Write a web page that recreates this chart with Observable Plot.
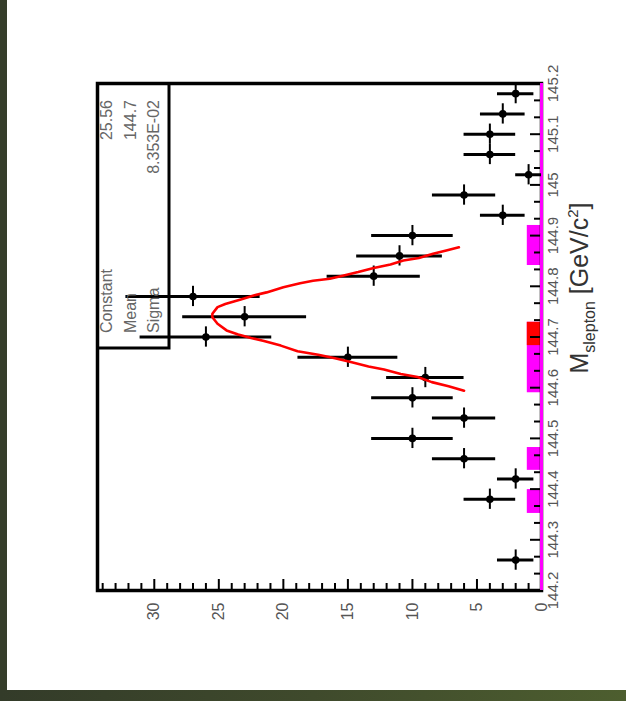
<!DOCTYPE html>
<html><head><meta charset="utf-8">
<script src="https://cdn.jsdelivr.net/npm/d3@7"></script>
<script src="https://cdn.jsdelivr.net/npm/@observablehq/plot@0.6"></script>
<style>
html,body{margin:0;padding:0;background:#fff;}
#page{position:relative;width:626px;height:701px;background:#fff;overflow:hidden;}
#lstripe{position:absolute;left:0;top:0;width:7px;height:701px;background:#363e2b;}
#bstripe{position:absolute;left:0;top:690px;width:626px;height:11px;background:linear-gradient(to right,#333b29,#3f4a2c 50%,#4d5e2f);}
#chart{position:absolute;left:0;top:0;}
</style></head><body>
<div id="page"><div id="chart"></div><div id="lstripe"></div><div id="bstripe"></div></div>
<script>
// ---- data ----
const binMass  = [144.26,144.38,144.42,144.46,144.50,144.54,144.58,144.62,144.66,144.70,144.74,144.78,144.82,144.86,144.90,144.94,144.98,145.02,145.06,145.10,145.14,145.18];
const binCount = [2,4,2,6,10,6,10,9,15,26,23,27,13,11,10,3,6,1,4,4,3,2];
const binErr   = [1.41,2,1.41,2.45,3.16,2.45,3.16,3,3.87,5.1,4.8,5.2,3.61,3.32,3.16,1.73,2.45,1,2,2,1.73,1.41];
const binHalfWidth = 0.02;

const bgLo  = [144.352,144.437,144.590,144.841];
const bgHi  = [144.399,144.482,144.729,144.920];
const bgVal = [1.1,1.1,1.1,1.1];
const sigLo  = [144.683];
const sigHi  = [144.729];
const sigVal = [1.1];

const fitMass = [144.594,144.603,144.611,144.621,144.627,144.636,144.642,144.650,144.658,144.665,144.672,144.683,144.692,144.698,144.705,144.713,144.726,144.739,144.746,144.759,144.765,144.774,144.782,144.788,144.798,144.806,144.811,144.815,144.821,144.828,144.836,144.843,144.851,144.856,144.864,144.871,144.877];
const fitVal  = [6.0,7.2,8.5,9.6,10.9,12.2,13.4,14.7,16.0,17.3,18.9,20.2,21.5,22.5,23.5,24.4,25.1,25.5,25.5,25.1,24.5,23.3,22.3,21.3,20.0,18.7,17.7,16.4,15.4,14.2,13.0,11.7,10.7,9.5,8.4,7.3,6.4];

const countTicks  = [0,5,10,15,20,25,30];
const countLabels = ["0","5","10","15","20","25","30"];
const countMinor  = [1,2,3,4,6,7,8,9,11,12,13,14,16,17,18,19,21,22,23,24,26,27,28,29,31,32,33,34];
const massTicks   = [144.2,144.3,144.4,144.5,144.6,144.7,144.8,144.9,145.0,145.1,145.2];
const massLabels  = ["144.2","144.3","144.4","144.5","144.6","144.7","144.8","144.9","145","145.1","145.2"];
const massMinor   = [144.2333,144.2667,144.3333,144.3667,144.4333,144.4667,144.5333,144.5667,144.6333,144.6667,144.7333,144.7667,144.8333,144.8667,144.9333,144.9667,145.0333,145.0667,145.1333,145.1667];

const statNames  = ["Constant","Mean","Sigma"];
const statValues = ["25.56","144.7","8.353E-02"];

// ---- build tables ----
const points = binMass.map((m,i)=>({m, c:binCount[i], e:binErr[i]}));
const bg  = bgLo.map((lo,i)=>({lo, hi:bgHi[i], v:bgVal[i]}));
const sig = sigLo.map((lo,i)=>({lo, hi:sigHi[i], v:sigVal[i]}));
const fit = fitMass.map((m,i)=>({m, v:fitVal[i]}));
const cTicks = countTicks.map((v,i)=>({v, t:countLabels[i]}));
const mTicks = massTicks.map((v,i)=>({v, t:massLabels[i]}));

const W=626, H=690, mL=97, mR=85, mT=83, mB=100;
const fw = W-mL-mR, fh = H-mT-mB;
const FONT = "'Liberation Sans', Arial, Helvetica, sans-serif";

const chart = Plot.plot({
  width: W, height: H,
  marginLeft: mL, marginRight: mR, marginTop: mT, marginBottom: mB,
  x: {domain:[0,34.4], reverse:true, axis:null},
  y: {domain:[144.2,145.2], axis:null},
  style: {background:"transparent", fontFamily: FONT},
  marks: [
    Plot.rect(bg, {x1:0, x2:"v", y1:"lo", y2:"hi", fill:"#ff00ff"}),
    Plot.rect(sig, {x1:0, x2:"v", y1:"lo", y2:"hi", fill:"#ff0000"}),
    Plot.ruleX(countTicks, {x:d=>d, insetTop: fh-11, stroke:"#000", strokeWidth:2}),
    Plot.ruleX(countMinor, {x:d=>d, insetTop: fh-7, stroke:"#000", strokeWidth:2}),
    Plot.ruleY(massTicks, {y:d=>d, insetLeft: fw-11, stroke:"#000", strokeWidth:2}),
    Plot.ruleY(massMinor, {y:d=>d, insetLeft: fw-7, stroke:"#000", strokeWidth:2}),
    Plot.frame({stroke:"#000", strokeWidth:3.5}),
    Plot.ruleX([0], {stroke:"#ff00ff", strokeWidth:3}),
    Plot.ruleY(points, {y:"m", x1:d=>d.c-d.e, x2:d=>d.c+d.e, stroke:"#000", strokeWidth:3}),
    Plot.ruleX(points, {x:"c", y1:d=>d.m-binHalfWidth, y2:d=>d.m+binHalfWidth, stroke:"#000", strokeWidth:2}),
    Plot.dot(points, {x:"c", y:"m", r:3.8, fill:"#000", stroke:"none"}),
    Plot.line(fit, {x:"v", y:"m", stroke:"#ff0000", strokeWidth:2.6}),
    Plot.text(cTicks, {x:"v", text:"t", frameAnchor:"bottom", dy:12, rotate:-90, textAnchor:"end", lineAnchor:"middle", fontSize:16, fill:"#555"}),
    Plot.text(mTicks, {y:"v", text:"t", frameAnchor:"right", dx:6, rotate:-90, textAnchor:"middle", lineAnchor:"top", fontSize:15, fill:"#555"})
  ]
});
document.getElementById("chart").appendChild(chart);

// ---- stats box and axis title ----
const svg = d3.select(chart);
const box = svg.append("g");
box.append("path").attr("d", `M${mL},348 H169 V${mT}`).attr("fill","none").attr("stroke","#000").attr("stroke-width",3);
const rowX = [106,130,153];
statNames.forEach((n,i)=>{
  box.append("text").attr("transform",`translate(${rowX[i]},333) rotate(-90)`)
    .attr("text-anchor","start").attr("dominant-baseline","central")
    .attr("font-family",FONT).attr("font-size",16).attr("fill","#666").text(n);
  box.append("text").attr("transform",`translate(${rowX[i]},100) rotate(-90)`)
    .attr("text-anchor","end").attr("dominant-baseline","central")
    .attr("font-family",FONT).attr("font-size",16).attr("fill","#666").text(statValues[i]);
});
const title = svg.append("text").attr("transform","translate(588,288) rotate(-90)")
  .attr("font-family",FONT).attr("font-size",25).attr("fill","#333");
title.append("tspan").text("M");
title.append("tspan").attr("font-size",16).attr("dy",7).text("slepton");
title.append("tspan").attr("dy",-7).text(" [GeV/c");
title.append("tspan").attr("font-size",15).attr("dy",-10).text("2");
title.append("tspan").attr("dy",10).text("]");
</script>
</body></html>
